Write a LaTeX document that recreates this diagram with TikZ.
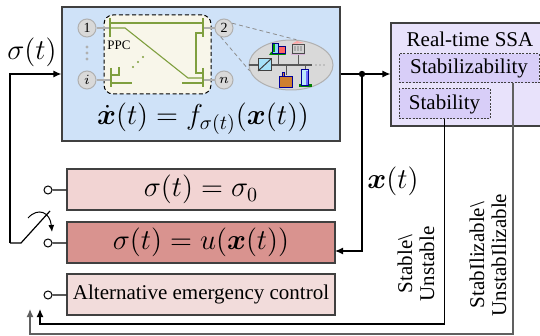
\documentclass[tikz,border=0pt]{standalone}
\usepackage{amsmath,bm}
\usepackage{fontspec}
\setmainfont{Liberation Serif}
\usetikzlibrary{arrows.meta,shapes.geometric}

\definecolor{sysblue}{HTML}{CFE2F8}
\definecolor{ppcbg}{HTML}{F8F6EA}
\definecolor{ppcgreen}{HTML}{7F9F3F}
\definecolor{busgray}{HTML}{B0B0B0}
\definecolor{nodegray}{HTML}{D9D9D9}
\definecolor{ssabg}{HTML}{E8E2FB}
\definecolor{ssainner}{HTML}{D8CEF8}
\definecolor{ctrllight}{HTML}{F2D4D3}
\definecolor{ctrldark}{HTML}{D9938F}
\definecolor{ctrlalt}{HTML}{F2DCDB}
\definecolor{edge}{HTML}{404040}

\tikzset{
  every node/.style={font=\fontsize{10.5}{12.5}\selectfont},
  boxed/.style={draw=edge, line width=0.6pt, inner sep=0pt},
  busnode/.style={circle, draw=busgray, fill=nodegray, line width=0.5pt,
    minimum size=9pt, inner sep=0pt, font=\fontsize{7}{8}\selectfont},
  ssabox/.style={draw=edge, line width=0.5pt, fill=ssainner,
    dash pattern=on 1pt off 0.7pt, inner sep=0pt},
  ctrl/.style={boxed, minimum width=134pt, minimum height=20.5pt},
  port/.style={circle, draw=black, fill=white, line width=0.5pt,
    minimum size=4pt, inner sep=0pt},
  wire/.style={line width=0.6pt},
  arr/.style={wire, -{Latex[length=4pt,width=3.5pt]}},
  gbar/.style={ppcgreen, line width=1.2pt},
  gline/.style={ppcgreen, line width=0.55pt},
}

\begin{document}
\begin{tikzpicture}[x=0.5pt,y=-0.5pt]
\useasboundingbox (0,0) rectangle (540,336);

% ---- switched system block ----
\node[boxed, fill=sysblue, minimum width=139pt, minimum height=67pt] (sys) at (201,74) {};
\node[draw=black, dashed, dash pattern=on 2pt off 1.3pt, line width=0.5pt,
  rounded corners=4.5pt, fill=ppcbg, minimum width=53.5pt, minimum height=39.5pt,
  inner sep=0pt] (ppc) at (157.5,54.5) {};
\node[font=\fontsize{6.5}{7}\selectfont, anchor=west, inner sep=0pt] (ppclbl) at (107,45) {PPC};

% bus nodes
\node[busnode] (b1) at (87,28) {1};
\node[busnode] (bi) at (87,80) {$i$};
\node[busnode] (b2) at (224,28) {2};
\node[busnode] (bn) at (224,80) {$n$};
\foreach \yy in {47,53,59} \fill[busgray] (87,\yy) circle (0.8pt);

% feeders to the converter bars
\draw[busgray, line width=0.6pt] (b1) -- (110,28);
\draw[busgray, line width=0.6pt] (bi) -- (111,80);
\draw[busgray, line width=0.6pt] (203,28) -- (b2);
\draw[busgray, line width=0.6pt] (203,80) -- (bn);

% power-path converter wiring
\draw[gbar] (110,18) -- (110,37);
\draw[gbar] (203,18) -- (203,37);
\draw[gbar] (111,68) -- (111,87);
\draw[gbar] (203,68) -- (203,87);
\draw[gline] (110,23) -- (203,23);
\draw[gline] (110,28) -- (125,28) -- (188,78) -- (203,78);
\draw[gline] (203,33) -- (196,33) -- (196,73) -- (203,73);
\draw[gline] (182,83) -- (203,83);
\draw[gline] (111,75) -- (119,75) -- (119,67);
\draw[gline] (111,83) -- (132,83);
\foreach \px/\py in {133/67,138/62,143/57} \fill[ppcgreen] (\px,\py) circle (0.6pt);

% zoomed-in grid
\node[ellipse, draw=busgray, fill=nodegray, line width=0.5pt,
  minimum width=42pt, minimum height=25pt, inner sep=0pt] (grid) at (291,65) {};
\draw[busgray!80!black, dashed, dash pattern=on 2pt off 1.5pt, line width=0.4pt] (b2.30) -- (grid.78);
\draw[busgray!80!black, dashed, dash pattern=on 2pt off 1.5pt, line width=0.4pt] (b2.250) -- (grid.188);
\draw[gray!70!black, line width=0.6pt] (grid.west) -- (258,65);
\draw[gray!70!black, line width=0.6pt] (271,65) -- (312,65);
\foreach \px in {316,320,324} \fill[gray!70] (\px,65) circle (0.45pt);
\draw[gray!70!black, line width=0.5pt] (278,65) -- (278,53);
\draw[gray!70!black, line width=0.5pt] (298,65) -- (298,53);
\draw[gray!70!black, line width=0.5pt] (286,65) -- (286,75);
\draw[gray!70!black, line width=0.5pt] (305,65) -- (305,70);
\filldraw[draw=gray!50!black, fill=cyan!35, line width=0.5pt] (258,59) rectangle (271,71);
\draw[gray!50!black, line width=0.5pt] (258,71) -- (271,59);
% load and generator icons
\fill[green!55!black] (271,52) -- (284,52) -- (286,55) -- (269,55) -- cycle;
\filldraw[draw=blue!50!black, fill=cyan!45, line width=0.3pt] (272,43) rectangle (278,53);
\filldraw[draw=blue!50!black, fill=red!60, line width=0.3pt] (278,46) rectangle (285,53);
\fill[green!60!black] (273,44) rectangle (275,52);
\fill[violet!30] (292,52) -- (304,52) -- (305,55) -- (291,55) -- cycle;
\filldraw[draw=gray!60!black, fill=gray!35, line width=0.3pt] (292,44) rectangle (304,53);
\fill[red!35] (292,44) -- (297,41) -- (304,43) -- cycle;
\foreach \wx in {294,297,300} \fill[gray!65] (\wx,46) rectangle ++(1.6,5);
\filldraw[draw=blue!60!black, fill=brown!75!orange, line width=0.4pt] (279,76) rectangle (292,87);
\filldraw[draw=blue!60!black, fill=brown!60!orange, line width=0.4pt] (282,72) rectangle (284.5,76);
\fill[green!50!black] (299,84) rectangle (312,87);
\filldraw[draw=blue!60!black, fill=cyan!25, line width=0.4pt] (301,69) rectangle (308,85);
\fill[blue!55] (305.5,71) rectangle (308,85);

\node (eq) at (203,119) {\Large $\dot{\bm{x}}(t) = f_{\sigma(t)}(\bm{x}(t))$};

% ---- stability assessment block ----
\node[boxed, fill=ssabg, minimum width=77pt, minimum height=51.5pt] (ssa) at (468,74.5) {};
\node (ssalbl) at (470,39) {Real-time SSA};
\node[ssabox, minimum width=70pt, minimum height=14.5pt] (stz) at (469,68.5) {Stabilizability};
\node[ssabox, minimum width=45.5pt, minimum height=15pt] (stb) at (444.5,104) {Stability};

% ---- control laws ----
\node[ctrl, fill=ctrllight] (c0) at (201,189.5) {\Large $\sigma(t) = \sigma_0$};
\node[ctrl, fill=ctrldark] (cu) at (201,242.5) {\Large $\sigma(t) = u(\bm{x}(t))$};
\node[ctrl, fill=ctrlalt] (ca) at (201,294.5) {Alternative emergency control};
\node[port] (s0) at (48,190) {};
\node[port] (su) at (48,243) {};
\node[port] (sa) at (48,295) {};
\draw[wire] (s0) -- (c0);
\draw[wire] (su) -- (cu);
\draw[wire] (sa) -- (ca);

% ---- switch and mode signal ----
\coordinate (swb) at (10,243);
\coordinate (swl) at (21,243);
\coordinate (swt) at (50,211);
\draw[wire] (swb) -- (swl) -- (swt);
\draw[arr] (swb) |- (sys.west);
\node (sig) at (32,52) {\Large $\sigma(t)$};
\draw[line width=0.5pt, -{Latex[length=3.5pt,width=3pt]}] (28,218) .. controls (38,207) and (50,212) .. (52,232);

% ---- state feedback ----
\coordinate (jn) at (362,74);
\coordinate (cuin) at (335,251);
\draw[arr] (sys.east) -- (ssa.west |- sys.east);
\fill (jn) circle (1.6pt);
\draw[arr] (jn) |- (cuin);
\node (xlbl) at (393,181) {\Large $\bm{x}(t)$};

% ---- assessment results back to the switch ----
\coordinate (fa) at (40,309);
\coordinate (fac) at (40,324);
\coordinate (fb) at (30,309);
\coordinate (fbc) at (30,334);
\draw[arr] (stb.south) |- (fac) -- (fa);
\draw[arr, gray!75!black] (stz.south -| 513,0) |- (fbc) -- (fb);
\node[rotate=90, align=center, font=\fontsize{10.5}{11}\selectfont] (stlbl) at (416,264) {Stable\textbackslash\\Unstable};
\node[rotate=90, align=center, font=\fontsize{10.5}{11}\selectfont] (szlbl) at (488,255) {StabIlizable\textbackslash\\UnstabIlizable};
\end{tikzpicture}
\end{document}
